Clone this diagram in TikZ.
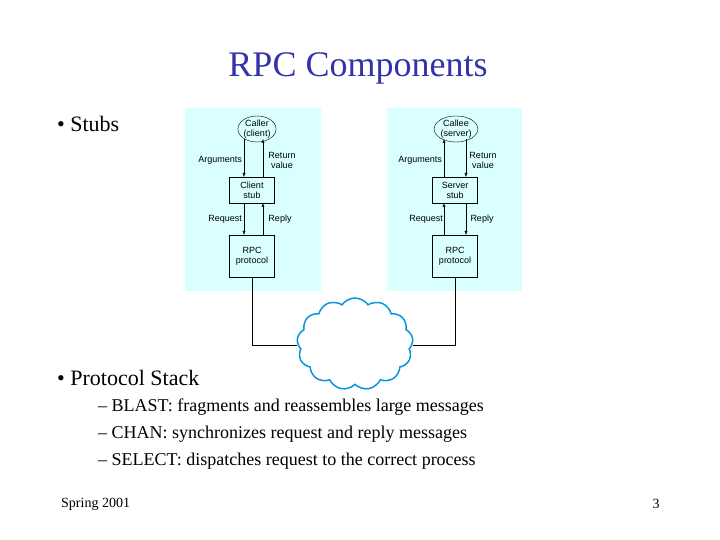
\documentclass[tikz,border=0pt]{standalone}
\usepackage{fontspec}
\setmainfont{Liberation Serif}
\newfontfamily\lsans{Liberation Sans}
\usetikzlibrary{shapes.symbols,shapes.geometric,arrows.meta}
\definecolor{panel}{HTML}{D9FFFF}
\definecolor{ttl}{HTML}{3333AA}
\begin{document}
\begin{tikzpicture}[x=1pt,y=-1pt,
  lab/.style={font=\lsans\fontsize{9}{10}\selectfont,align=center,inner sep=0pt},
  box/.style={draw,lab,minimum width=45pt},
  arr/.style={-{Latex[length=4pt,width=3pt]}},
  txt/.style={anchor=west,inner sep=0pt}]
\useasboundingbox (0,0) rectangle (720,540);
\node[font=\fontsize{36}{40}\selectfont,text=ttl] (title) at (358,68) {RPC Components};
\node[txt,font=\fontsize{22}{26}\selectfont] (b1) at (57,124) {\textbullet\ Stubs};
\node[txt,font=\fontsize{22}{26}\selectfont] (b2) at (57,378) {\textbullet\ Protocol Stack};
\node[txt,font=\fontsize{18}{22}\selectfont] (s1) at (98,407) {-- BLAST: fragments and reassembles large messages};
\node[txt,font=\fontsize{18}{22}\selectfont] (s2) at (98,434) {-- CHAN: synchronizes request and reply messages};
\node[txt,font=\fontsize{18}{22}\selectfont] (s3) at (98,461) {-- SELECT: dispatches request to the correct process};
\node[txt,font=\fontsize{14}{16}\selectfont] (f1) at (61,504) {Spring 2001};
\node[font=\fontsize{14}{16}\selectfont] (f2) at (656,504) {3};
% panels
\fill[panel] (185,108) rectangle (321,291);
\fill[panel] (387,108) rectangle (522,291);
% left
\node[draw,ellipse,lab,minimum width=38pt,minimum height=26pt] (caller) at (257,129) {Caller\\(client)};
\node[box,minimum height=26pt] (cstub) at (252,190) {Client\\stub};
\node[box,minimum height=42pt] (crpc) at (252,256) {RPC\\protocol};
\draw[arr] (244,139) -- (244,177);
\draw[arr] (263,177) -- (263,139);
\draw[arr] (244,203) -- (244,235);
\draw[arr] (263,235) -- (263,203);
\node[lab,anchor=east] (la1) at (242,160) {Arguments};
\node[lab] (la2) at (282,160) {Return\\value};
\node[lab,anchor=east] (la3) at (242,219) {Request};
\node[lab] (la4) at (280,219) {Reply};
% right
\node[draw,ellipse,lab,minimum width=38pt,minimum height=26pt] (callee) at (456,129) {Callee\\(server)};
\node[box,minimum height=26pt] (sstub) at (455,190) {Server\\stub};
\node[box,minimum height=42pt] (srpc) at (455,256) {RPC\\protocol};
\draw[arr] (444,177) -- (444,139);
\draw[arr] (466,139) -- (466,177);
\draw[arr] (444,235) -- (444,203);
\draw[arr] (466,203) -- (466,235);
\node[lab,anchor=east] (ra1) at (442,160) {Arguments};
\node[lab] (ra2) at (483,160) {Return\\value};
\node[lab,anchor=east] (ra3) at (443,219) {Request};
\node[lab] (ra4) at (482,219) {Reply};
% cloud
\node[cloud,draw=cyan!80!blue,line width=1.5pt,cloud puffs=13,cloud puff arc=110,minimum width=116pt,minimum height=92pt,aspect=1.2] (cloud) at (355,344) {};
\coordinate (cl) at (297,345);
\coordinate (cr) at (413,345);
\draw (crpc.south) |- (cl);
\draw (srpc.south) |- (cr);
\end{tikzpicture}
\end{document}
